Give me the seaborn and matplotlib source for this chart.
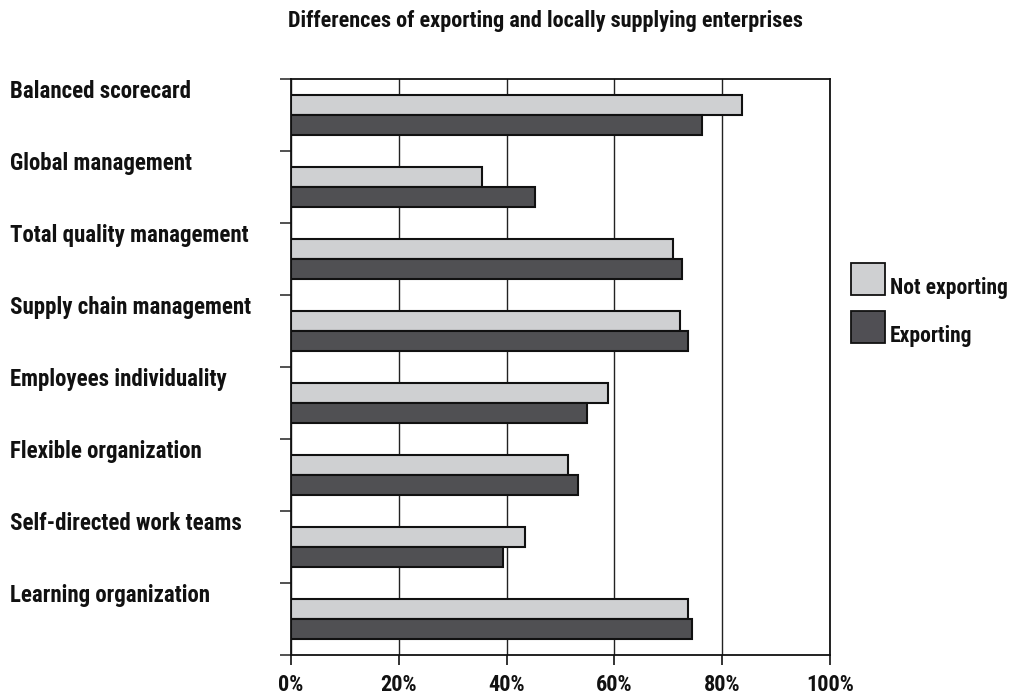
import matplotlib
matplotlib.use("Agg")
import matplotlib.pyplot as plt
from matplotlib import font_manager
from matplotlib.patches import Rectangle
import matplotlib.transforms as mtransforms
import seaborn as sns
import pandas as pd

categories = [
    "Balanced scorecard",
    "Global management",
    "Total quality management",
    "Supply chain management",
    "Employees individuality",
    "Flexible organization",
    "Self-directed work teams",
    "Learning organization",
]
not_exporting = [83.7, 35.5, 70.8, 72.1, 58.8, 51.4, 43.5, 73.6]
exporting = [76.2, 45.2, 72.6, 73.6, 55.0, 53.2, 39.4, 74.4]
series_names = ["Not exporting", "Exporting"]
series_colors = ["#cfd0d2", "#504f54"]
x_ticks = [0, 20, 40, 60, 80, 100]
x_tick_labels = ["0%", "20%", "40%", "60%", "80%", "100%"]
title = "Differences of exporting and locally supplying enterprises"

sns.set_theme(style="white")
installed = {f.name for f in font_manager.fontManager.ttflist}
narrow = next((n for n in ["Roboto Condensed", "Liberation Sans Narrow", "Liberation Sans"]
               if n in installed), "DejaVu Sans")
plt.rcParams["font.family"] = [narrow, "DejaVu Sans"]
plt.rcParams["font.weight"] = "bold"

df = pd.DataFrame({
    "category": categories * 2,
    "share": not_exporting + exporting,
    "series": [series_names[0]] * len(categories) + [series_names[1]] * len(categories),
})

fig = plt.figure(figsize=(10.19, 7.0), dpi=100)
ax = fig.add_axes([0.2856, 0.0643, 0.8145 - 0.2856, 0.887 - 0.0643])

sns.barplot(
    data=df, x="share", y="category", hue="series", order=categories,
    hue_order=series_names, palette=series_colors, orient="h",
    width=0.56, edgecolor="#111111", linewidth=1.5, ax=ax, legend=False,
)

ax.set_xlim(0, 100)
ax.set_ylim(len(categories) - 0.5, -0.5)
ax.set_xticks(x_ticks)
ax.set_xticklabels(x_tick_labels, fontsize=16, fontweight="bold")
ax.tick_params(axis="x", direction="out", length=7, width=1.2, color="#111111", pad=7,
               bottom=True, labelcolor="#111111")
ax.set_yticks([i - 0.5 for i in range(len(categories) + 1)])
ax.set_yticklabels([])
ax.tick_params(axis="y", direction="out", length=8, width=1.2, color="#333333", left=True)
ax.set_xlabel("")
ax.set_ylabel("")
ax.grid(axis="x", color="#222222", linewidth=1.0)
ax.grid(axis="y", visible=False)
ax.set_axisbelow(True)
for side in ["top", "right", "bottom", "left"]:
    ax.spines[side].set_visible(True)
    ax.spines[side].set_color("#111111")
    ax.spines[side].set_linewidth(1.3)

# category names sit left-aligned in the margin, near the top of each row
label_tf = mtransforms.blended_transform_factory(fig.transFigure, ax.transData)
for i, name in enumerate(categories):
    ax.text(10 / 1019, i - 0.33, name, transform=label_tf,
            ha="left", va="center", fontsize=16.5, fontweight="bold", color="#111111")

# legend: square swatches with the label sitting on the swatch baseline
swatch_w, swatch_h = 34 / 1019, 32 / 700
swatch_x = 851 / 1019
for k, (name, color) in enumerate(zip(series_names, series_colors)):
    bottom = 1 - (295 + 48 * k) / 700
    fig.add_artist(Rectangle((swatch_x, bottom), swatch_w, swatch_h, transform=fig.transFigure,
                             facecolor=color, edgecolor="#111111", linewidth=1.3))
    fig.text(890 / 1019, bottom + 1 / 700, name, ha="left", va="baseline",
             fontsize=15.5, fontweight="bold", color="#111111")

fig.text(545 / 1019, 1 - 21 / 700, title, ha="center", va="center",
         fontsize=16, fontweight="bold", color="#111111")

fig.savefig("out.png", dpi=100, facecolor="white")
